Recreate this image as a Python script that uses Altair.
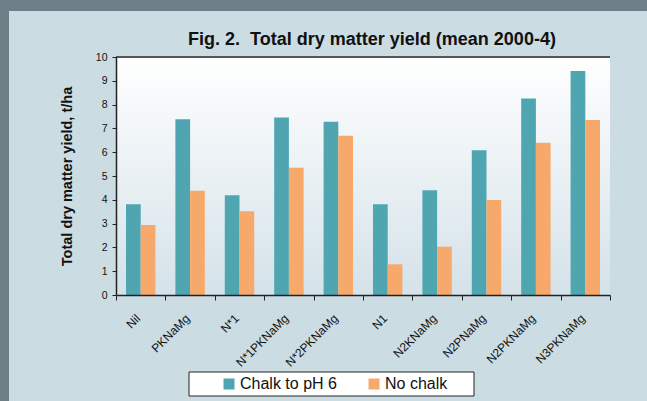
import altair as alt
import pandas as pd

categories = ["Nil", "PKNaMg", "N*1", "N*1PKNaMg", "N*2PKNaMg", "N1",
              "N2KNaMg", "N2PNaMg", "N2PKNaMg", "N3PKNaMg"]
chalk = [3.81, 7.38, 4.19, 7.46, 7.28, 3.81, 4.40, 6.08, 8.26, 9.41]
no_chalk = [2.94, 4.38, 3.52, 5.35, 6.69, 1.29, 2.03, 3.99, 6.40, 7.35]
series = ["Chalk to pH 6", "No chalk"]
colors = ["#4fa6b1", "#f7a96b"]
y_ticks = list(range(0, 11))

rows = []
for c, a, b in zip(categories, chalk, no_chalk):
    rows.append({"category": c, "series": series[0], "value": a})
    rows.append({"category": c, "series": series[1], "value": b})
df = pd.DataFrame(rows)

W, H = 494, 238
FONT = "Liberation Sans"
BORDER = "#6e7e86"
one = pd.DataFrame({"d": [0]})

top_strip = alt.Chart(one).mark_rect(color=BORDER).encode(
    x=alt.value(-116), x2=alt.value(531), y=alt.value(-57), y2=alt.value(-46))
left_strip = alt.Chart(one).mark_rect(color=BORDER).encode(
    x=alt.value(-116), x2=alt.value(-107), y=alt.value(-46), y2=alt.value(344))

plot_bg = alt.Chart(one).mark_rect(
    fill=alt.LinearGradient(
        gradient="linear",
        stops=[alt.GradientStop(color="#ffffff", offset=0),
               alt.GradientStop(color="#d4e2e9", offset=1)],
        x1=0, x2=0, y1=0, y2=1)
).encode(x=alt.value(0), x2=alt.value(W), y=alt.value(0), y2=alt.value(H))

top_rule = alt.Chart(one).mark_rule(color="#555555", strokeWidth=2).encode(
    x=alt.value(0), x2=alt.value(W), y=alt.value(0))

legend_box = alt.Chart(one).mark_rect(fill="white", stroke="#222222", strokeWidth=1).encode(
    x=alt.value(73), x2=alt.value(358), y=alt.value(315), y2=alt.value(339))

bars = alt.Chart(df).mark_bar().encode(
    x=alt.X("category:N", sort=categories,
            scale=alt.Scale(paddingInner=0, paddingOuter=0),
            axis=alt.Axis(title=None, labelAngle=-45, labelAlign="right",
                          labelBaseline="middle", labelFontSize=12, labelFont=FONT,
                          labelColor="#111111", tickBand="extent", tickSize=5,
                          labelPadding=16, labelOffset=-3, domainColor="#222222",
                          tickColor="#222222", domainWidth=1.5, zindex=1)),
    xOffset=alt.XOffset("series:N", sort=series,
                        scale=alt.Scale(paddingOuter=0.68, paddingInner=0)),
    y=alt.Y("value:Q", scale=alt.Scale(domain=[0, 10], nice=False),
            axis=alt.Axis(values=y_ticks, title="Total dry matter yield, t/ha",
                          titleFont=FONT, titleFontSize=14.5, titleFontWeight="bold",
                          titleColor="#111111", titlePadding=21,
                          labelFont=FONT, labelFontSize=10.5, labelColor="#111111",
                          labelPadding=5, tickSize=4, grid=False,
                          domainColor="#222222", tickColor="#222222",
                          domainWidth=1.5, zindex=1)),
    color=alt.Color("series:N", sort=series,
                    scale=alt.Scale(domain=series, range=colors),
                    legend=alt.Legend(title=None, orient="none", legendX=105, legendY=319,
                                      direction="horizontal", symbolType="square",
                                      symbolSize=121, symbolStrokeWidth=0,
                                      labelFontSize=16, labelFont=FONT,
                                      labelColor="#111111", columnPadding=29,
                                      labelOffset=3, padding=0)),
)

chart = alt.layer(top_strip, left_strip, plot_bg, bars, top_rule, legend_box).properties(
    width=W, height=H,
    title=alt.TitleParams("Fig. 2.\u00a0 Total dry matter yield (mean 2000-4)",
                          font=FONT, fontSize=18, fontWeight="bold", color="#111111",
                          anchor="middle", dx=9, offset=-63, baseline="alphabetic",
                          frame="group"),
    autosize=alt.AutoSizeParams(type="none"),
    padding={"left": 116, "top": 57, "right": 37, "bottom": 106},
    background="#cbdce3",
).configure_view(stroke=None)

chart.save("out.html", embed_options={"renderer": "svg", "actions": False})
